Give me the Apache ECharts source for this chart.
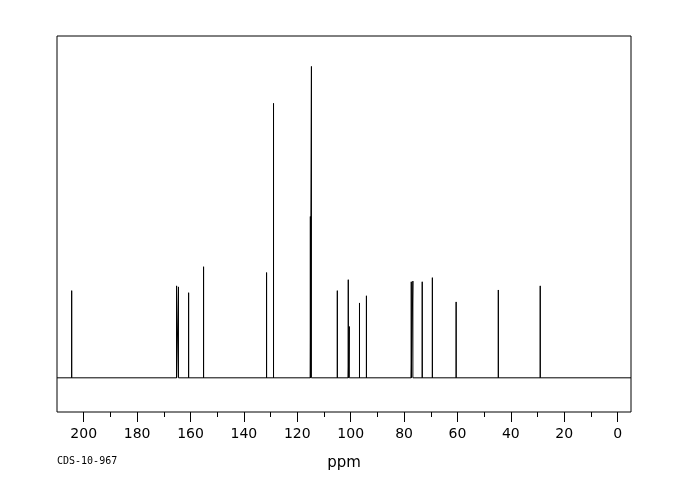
<!DOCTYPE html>
<html>
<head>
<meta charset="utf-8">
<script src="https://cdn.jsdelivr.net/npm/echarts@6/dist/echarts.min.js"></script>
<style>html,body{margin:0;padding:0;background:#fff}#c{width:680px;height:500px}</style>
</head>
<body>
<div id="c"></div>
<script>
var peakPpm = [204.5, 165.2, 164.5, 160.7, 155.1, 131.5, 128.9, 115.1, 114.7, 105.0, 100.9, 100.5, 96.7, 94.1, 77.3, 76.7, 73.2, 69.4, 60.5, 44.7, 29.0];
var peakHeight = [25.5, 26.9, 26.6, 24.9, 32.5, 30.8, 80.3, 47.2, 91.1, 25.5, 28.7, 15.0, 21.9, 24.0, 28.1, 28.3, 28.1, 29.3, 22.2, 25.7, 26.9];
var majorTicks = [0, 20, 40, 60, 80, 100, 120, 140, 160, 180, 200];
var minorTicks = [10, 30, 50, 70, 90, 110, 130, 150, 170, 190];
var xRange = [-5, 210];
var axisTitle = 'ppm';
var sampleId = 'CDS-10-967';

var spectrum = [[xRange[1], 0]];
for (var i = 0; i < peakPpm.length; i++) {
  spectrum.push([peakPpm[i], 0]);
  spectrum.push([peakPpm[i], peakHeight[i]]);
  spectrum.push([peakPpm[i], 0]);
}
spectrum.push([xRange[0], 0]);

var chart = echarts.init(document.getElementById('c'));
chart.setOption({
  animation: false,
  backgroundColor: '#fff',
  grid: {left: 57, right: 49, top: 36, bottom: 88, show: true, borderColor: '#000', borderWidth: 1, backgroundColor: 'transparent'},
  xAxis: [{
    type: 'value', min: xRange[0], max: xRange[1], inverse: true,
    name: axisTitle, nameLocation: 'middle', nameGap: 44,
    nameTextStyle: {color: '#000', fontSize: 15, fontFamily: 'DejaVu Sans'},
    axisLine: {show: false, onZero: false},
    splitLine: {show: false},
    axisTick: {show: true, inside: false, length: 10, lineStyle: {color: '#000', width: 1}, customValues: majorTicks},
    axisLabel: {show: true, color: '#000', fontSize: 14, fontFamily: 'DejaVu Sans', margin: 15, customValues: majorTicks}
  }, {
    type: 'value', min: xRange[0], max: xRange[1], inverse: true, position: 'bottom',
    axisLine: {show: false, onZero: false},
    splitLine: {show: false},
    axisTick: {show: true, inside: false, length: 5, lineStyle: {color: '#000', width: 1}, customValues: minorTicks},
    axisLabel: {show: false, customValues: minorTicks}
  }],
  yAxis: {type: 'value', min: -10, max: 100, show: false},
  series: [{
    type: 'line', xAxisIndex: 0, data: spectrum, showSymbol: false, symbol: 'none',
    lineStyle: {color: '#000', width: 1}, silent: true
  }],
  graphic: [{
    type: 'text', left: 57, top: 456,
    style: {text: sampleId, fill: '#000', font: '10px "DejaVu Sans Mono"'}
  }]
});
</script>
</body>
</html>
